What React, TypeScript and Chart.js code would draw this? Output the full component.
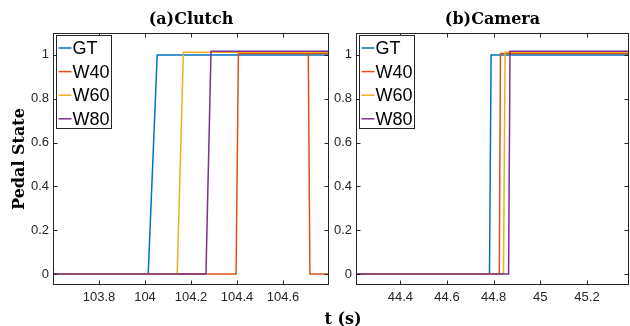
import React, { useEffect, useRef } from 'react';
import { Chart, registerables } from 'chart.js';

Chart.register(...registerables);

// ---------- data ----------
const seriesNames = ['GT', 'W40', 'W60', 'W80'];
const seriesColors = ['#0072BD', '#D95319', '#EDB120', '#7E2F8E'];

const yTicks = [0, 0.2, 0.4, 0.6, 0.8, 1];
const yRange = [-0.05, 1.1];

// (a) Clutch
const clutchRange = [103.6, 104.8];
const clutchTicks = [103.8, 104, 104.2, 104.4, 104.6];
const clutchT_GT = [103.6, 104.014, 104.053, 104.8];
const clutchY_GT = [0, 0, 1, 1];
const clutchT_W40 = [103.6, 104.396, 104.406, 104.71, 104.717, 104.8, 104.8, 104.71, 104.8];
const clutchY_W40 = [0, 0, 1.006, 1.006, 0, 0, null, 1.006, 1.006];
const clutchT_W60 = [103.6, 104.14, 104.167, 104.8];
const clutchY_W60 = [0, 0, 1.012, 1.012];
const clutchT_W80 = [103.6, 104.265, 104.287, 104.8];
const clutchY_W80 = [0, 0, 1.017, 1.017];

// (b) Camera
const cameraRange = [44.21, 45.38];
const cameraTicks = [44.4, 44.6, 44.8, 45, 45.2];
const cameraT_GT = [44.21, 44.782, 44.789, 45.38];
const cameraY_GT = [0, 0, 1, 1];
const cameraT_W40 = [44.21, 44.824, 44.829, 45.38];
const cameraY_W40 = [0, 0, 1.006, 1.006];
const cameraT_W60 = [44.21, 44.842, 44.849, 45.38];
const cameraY_W60 = [0, 0, 1.012, 1.012];
const cameraT_W80 = [44.21, 44.864, 44.87, 45.38];
const cameraY_W80 = [0, 0, 1.017, 1.017];

const TICK_FONT = "'Liberation Sans', Arial, sans-serif";
const SERIF = "'DejaVu Serif', serif";
const AXIS_COLOR = '#262626';

type PanelProps = {
  title: string;
  xRange: number[];
  xTicks: number[];
  ts: (number | null)[][];
  ys: (number | null)[][];
  width: number;
  yAxisWidth: number;
  yTitle?: string;
};

const decorPlugin = {
  id: 'panelDecor',
  afterDraw(chart: any, _args: any, opts: any) {
    const { ctx, chartArea: a, scales } = chart;
    ctx.save();
    // box
    ctx.strokeStyle = AXIS_COLOR;
    ctx.lineWidth = 1;
    const L = Math.round(a.left) + 0.5;
    const R = Math.round(a.right) - 0.5;
    const T = Math.round(a.top) + 0.5;
    const B = Math.round(a.bottom) - 0.5;
    ctx.strokeRect(L, T, R - L, B - T);
    // inward ticks
    const tl = 4;
    ctx.beginPath();
    for (const t of scales.x.ticks) {
      const px = Math.round(scales.x.getPixelForValue(t.value)) + 0.5;
      ctx.moveTo(px, B);
      ctx.lineTo(px, B - tl);
      ctx.moveTo(px, T);
      ctx.lineTo(px, T + tl);
    }
    for (const t of scales.y.ticks) {
      const py = Math.round(scales.y.getPixelForValue(t.value)) + 0.5;
      ctx.moveTo(L, py);
      ctx.lineTo(L + tl, py);
      ctx.moveTo(R, py);
      ctx.lineTo(R - tl, py);
    }
    ctx.stroke();

    // legend
    const bx = Math.round(a.left) + 3.5;
    const by = Math.round(a.top) + 2.5;
    const bw = 55;
    const bh = 93;
    ctx.fillStyle = '#ffffff';
    ctx.fillRect(bx, by, bw, bh);
    ctx.strokeStyle = AXIS_COLOR;
    ctx.lineWidth = 1;
    ctx.strokeRect(bx, by, bw, bh);
    ctx.font = `18px ${TICK_FONT}`;
    ctx.textBaseline = 'middle';
    ctx.textAlign = 'left';
    seriesNames.forEach((n, i) => {
      const cy = by + 12.5 + i * 23.6;
      ctx.strokeStyle = seriesColors[i];
      ctx.lineWidth = 1.5;
      ctx.beginPath();
      ctx.moveTo(bx + 2, cy);
      ctx.lineTo(bx + 15, cy);
      ctx.stroke();
      ctx.fillStyle = '#000000';
      ctx.fillText(n, bx + 16, cy + 1);
    });

    // panel title
    ctx.fillStyle = '#000000';
    ctx.font = `bold 16px ${SERIF}`;
    ctx.textAlign = 'center';
    ctx.textBaseline = 'alphabetic';
    ctx.fillText(opts.title, (a.left + a.right) / 2, 24);

    // y title
    if (opts.yTitle) {
      ctx.save();
      ctx.translate(23.5, (a.top + a.bottom) / 2);
      ctx.rotate(-Math.PI / 2);
      ctx.fillText(opts.yTitle, 0, 0);
      ctx.restore();
    }
    ctx.restore();
  },
};

function Panel(props: PanelProps) {
  const ref = useRef<HTMLCanvasElement | null>(null);
  useEffect(() => {
    if (!ref.current) return;
    const datasets = seriesNames.map((name, i) => ({
      label: name,
      data: props.ts[i].map((t, j) => ({ x: t as number, y: props.ys[i][j] as any })),
      borderColor: seriesColors[i],
      backgroundColor: seriesColors[i],
      borderWidth: 1.5,
      pointRadius: 0,
      tension: 0,
      fill: false,
      spanGaps: false,
      order: seriesNames.length - i,
    }));
    const chart = new Chart(ref.current, {
      type: 'line',
      data: { datasets },
      options: {
        animation: false,
        responsive: false,
        maintainAspectRatio: false,
        layout: { padding: { top: 33, right: 1, left: 0, bottom: 0 } },
        plugins: {
          legend: { display: false },
          tooltip: { enabled: false },
          title: { display: false },
          panelDecor: { title: props.title, yTitle: props.yTitle },
        } as any,
        scales: {
          x: {
            type: 'linear',
            min: props.xRange[0],
            max: props.xRange[1],
            grid: { display: false, drawTicks: false },
            border: { display: false },
            ticks: {
              padding: 5,
              color: AXIS_COLOR,
              font: { family: TICK_FONT, size: 13 },
              maxRotation: 0,
              autoSkip: false,
              callback: (v: any) => String(v),
            },
            afterBuildTicks: (axis: any) => {
              axis.ticks = props.xTicks.map((v) => ({ value: v }));
            },
            afterFit: (axis: any) => {
              axis.height = 41;
            },
          },
          y: {
            type: 'linear',
            min: yRange[0],
            max: yRange[1],
            grid: { display: false, drawTicks: false },
            border: { display: false },
            ticks: {
              padding: 4,
              color: AXIS_COLOR,
              font: { family: TICK_FONT, size: 13 },
              autoSkip: false,
              callback: (v: any) => String(v),
            },
            afterBuildTicks: (axis: any) => {
              axis.ticks = yTicks.map((v) => ({ value: v }));
            },
            afterFit: (axis: any) => {
              axis.width = props.yAxisWidth;
            },
          },
        },
      } as any,
      plugins: [decorPlugin as any],
    });
    return () => chart.destroy();
  }, []);
  return <canvas ref={ref} width={props.width} height={326} style={{ display: 'block', width: props.width, height: 326 }} />;
}

export default function App() {
  return (
    <div style={{ position: 'absolute', left: 0, top: 0, width: 630, height: 326, background: '#fff', overflow: 'hidden' }}>
      <div style={{ position: 'absolute', left: 0, top: 0 }}>
        <Panel
          title="(a)Clutch"
          xRange={clutchRange}
          xTicks={clutchTicks}
          ts={[clutchT_GT, clutchT_W40, clutchT_W60, clutchT_W80]}
          ys={[clutchY_GT, clutchY_W40, clutchY_W60, clutchY_W80]}
          width={330}
          yAxisWidth={53}
          yTitle="Pedal State"
        />
      </div>
      <div style={{ position: 'absolute', left: 330, top: 0 }}>
        <Panel
          title="(b)Camera"
          xRange={cameraRange}
          xTicks={cameraTicks}
          ts={[cameraT_GT, cameraT_W40, cameraT_W60, cameraT_W80]}
          ys={[cameraY_GT, cameraY_W40, cameraY_W60, cameraY_W80]}
          width={300}
          yAxisWidth={26}
        />
      </div>
      <div
        style={{
          position: 'absolute',
          left: 293,
          top: 311,
          width: 100,
          textAlign: 'center',
          fontFamily: SERIF,
          fontWeight: 'bold',
          fontSize: 16,
          lineHeight: '16px',
          color: '#000',
          whiteSpace: 'nowrap',
        }}
      >
        t (s)
      </div>
    </div>
  );
}
